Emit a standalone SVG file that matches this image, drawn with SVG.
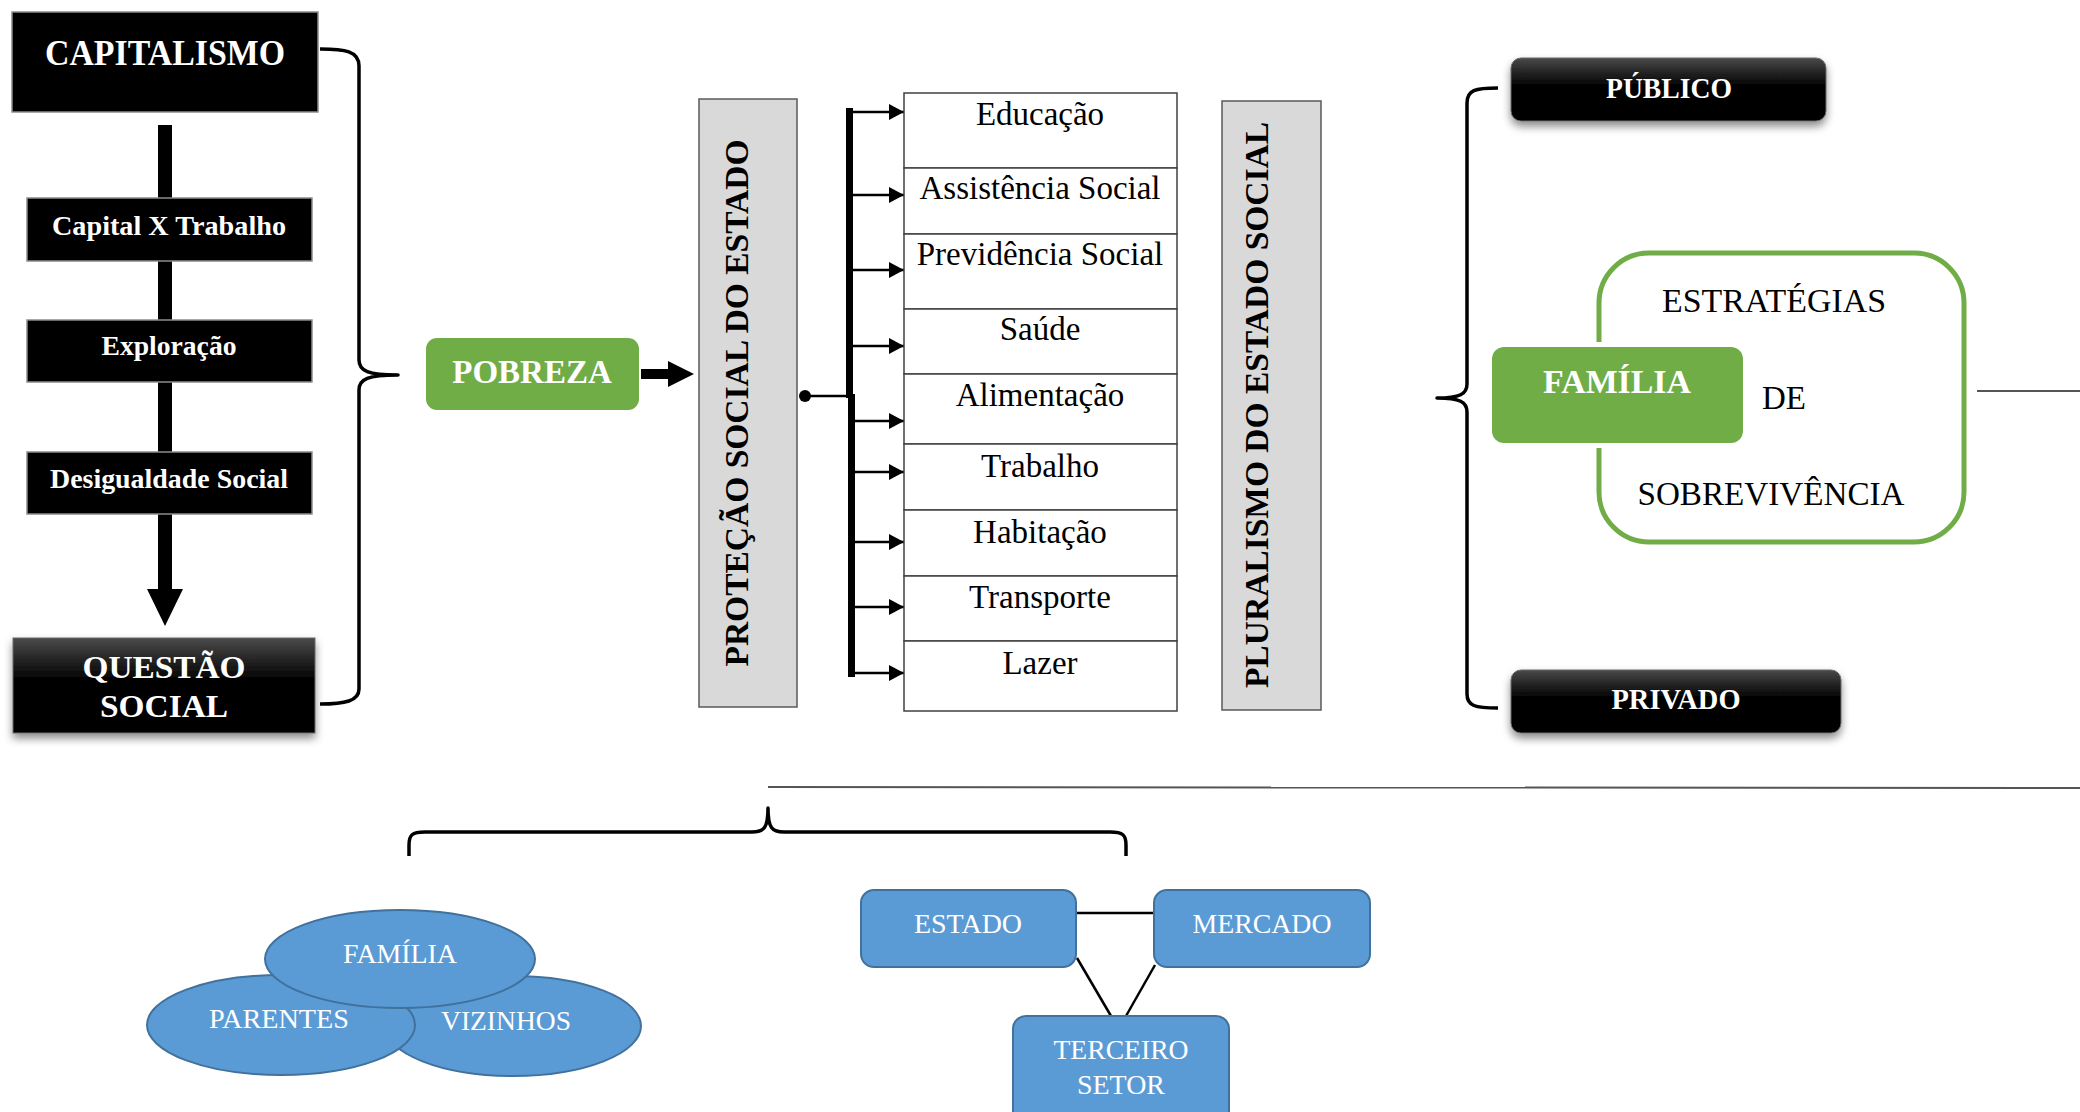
<svg xmlns="http://www.w3.org/2000/svg" width="2080" height="1112" viewBox="0 0 2080 1112">
<style>
.bk{fill:#000;stroke:#8c8c8c;stroke-width:1.5}
.bkg{fill:url(#dk);stroke:#6a6a6a;stroke-width:1}
.wb{font-family:"Liberation Serif","Times New Roman",serif;font-weight:bold;fill:#fff;text-anchor:middle}
.kb{font-family:"Liberation Serif","Times New Roman",serif;font-weight:bold;fill:#000;text-anchor:middle}
.tr{font-family:"Liberation Serif","Times New Roman",serif;fill:#000;text-anchor:middle;font-size:33px}
.tw{font-family:"Liberation Serif","Times New Roman",serif;fill:#fff;text-anchor:middle;font-size:28px}
.panel{fill:#d9d9d9;stroke:#595959;stroke-width:1.5}
.cell{fill:#fff;stroke:#404040;stroke-width:1.5}
.green{fill:#70ad47}
.blue{fill:#5b9bd5;stroke:#41719c;stroke-width:2}
.brace{fill:none;stroke:#000;stroke-width:3.5;stroke-linejoin:round}
.br{stroke:#000;stroke-width:2.5;fill:none;marker-end:url(#ah)}
.thin{stroke:#000;stroke-width:2.5;fill:none}
.gl{stroke:#555;stroke-width:2;fill:none}
</style>
<defs>
<linearGradient id="dk" x1="0" y1="0" x2="0" y2="1">
<stop offset="0" stop-color="#4a4a4a"/>
<stop offset="0.45" stop-color="#000"/>
<stop offset="1" stop-color="#000"/>
</linearGradient>
<filter id="sh" x="-10%" y="-20%" width="120%" height="160%">
<feDropShadow dx="0" dy="5" stdDeviation="4" flood-color="#000" flood-opacity="0.45"/>
</filter>
<marker id="ah" markerWidth="16" markerHeight="16" refX="15" refY="8" orient="auto" markerUnits="userSpaceOnUse">
<path d="M0,0 L15,8 L0,16 Z" fill="#000"/>
</marker>
</defs>
<rect width="2080" height="1112" fill="#fff"/>

<g id="connectors">
<rect x="158" y="125" width="14" height="465" fill="#000"/>
<polygon points="147,589 183,589 165,626" fill="#000"/>
<path class="brace" d="M320 49 C345 49 359 51 359 66 L359 360 C359 371 368 375 398 375 C368 375 359 379 359 390 L359 689 C359 701 345 704 320 704"/>
<rect x="641" y="369" width="29" height="10" fill="#000"/>
<polygon points="668,361 694,374 668,387" fill="#000"/>
<circle cx="805" cy="396" r="6" fill="#000"/>
<line x1="805" y1="396" x2="852" y2="396" class="thin" stroke-width="3"/>
<rect x="846" y="108" width="7" height="290" fill="#000"/>
<rect x="848" y="394" width="7" height="283" fill="#000"/>
<line class="br" x1="852" y1="112" x2="904" y2="112"/>
<line class="br" x1="852" y1="195" x2="904" y2="195"/>
<line class="br" x1="852" y1="270" x2="904" y2="270"/>
<line class="br" x1="852" y1="346" x2="904" y2="346"/>
<line class="br" x1="854" y1="421" x2="904" y2="421"/>
<line class="br" x1="854" y1="472" x2="904" y2="472"/>
<line class="br" x1="854" y1="542" x2="904" y2="542"/>
<line class="br" x1="854" y1="607" x2="904" y2="607"/>
<line class="br" x1="854" y1="673" x2="904" y2="673"/>
<path class="brace" d="M1498 88 C1475 88 1467 90 1467 103 L1467 384 C1467 394 1460 398 1437 398 C1460 398 1467 402 1467 412 L1467 694 C1467 706 1475 708 1498 708"/>
<line class="gl" x1="1977" y1="391" x2="2080" y2="391"/>
<line class="gl" x1="768" y1="787" x2="2080" y2="788"/>
<path class="brace" d="M409 856 L409 845 C409 835 412 832 425 832 L752 832 C764 832 768 828 768 808 C768 828 772 832 784 832 L1110 832 C1123 832 1126 835 1126 845 L1126 856"/>
<line class="thin" x1="1077" y1="913" x2="1154" y2="913"/>
<line class="thin" x1="1077" y1="958" x2="1111" y2="1016"/>
<line class="thin" x1="1155" y1="965" x2="1126" y2="1016"/>
</g>

<g id="capitalismo">
<rect class="bk" x="12" y="12" width="306" height="100"/>
<text class="wb" x="165" y="65" font-size="35" textLength="240" lengthAdjust="spacingAndGlyphs">CAPITALISMO</text>
</g>
<g id="capital-trabalho">
<rect class="bk" x="27" y="198" width="285" height="63"/>
<text class="wb" x="169" y="235" font-size="27" textLength="234" lengthAdjust="spacingAndGlyphs">Capital X Trabalho</text>
</g>
<g id="exploracao">
<rect class="bk" x="27" y="320" width="285" height="62"/>
<text class="wb" x="169" y="355" font-size="27" textLength="135" lengthAdjust="spacingAndGlyphs">Exploração</text>
</g>
<g id="desigualdade">
<rect class="bk" x="27" y="452" width="285" height="62"/>
<text class="wb" x="169" y="488" font-size="27" textLength="238" lengthAdjust="spacingAndGlyphs">Desigualdade Social</text>
</g>
<g id="questao-social">
<rect class="bkg" x="13" y="638" width="302" height="95" filter="url(#sh)"/>
<text class="wb" x="164" y="678" font-size="32" textLength="163" lengthAdjust="spacingAndGlyphs">QUESTÃO</text>
<text class="wb" x="164" y="717" font-size="32" textLength="128" lengthAdjust="spacingAndGlyphs">SOCIAL</text>
</g>

<g id="pobreza">
<rect class="green" x="426" y="338" width="213" height="72" rx="11"/>
<text class="wb" x="532" y="383" font-size="33">POBREZA</text>
</g>

<g id="protecao-social">
<rect class="panel" x="699" y="99" width="98" height="608"/>
<text class="kb" transform="translate(748,403) rotate(-90)" font-size="33.5">PROTEÇÃO SOCIAL DO ESTADO</text>
</g>

<g id="politicas">
<rect class="cell" x="904" y="93" width="273" height="75"/>
<text class="tr" x="1040" y="125">Educação</text>
<rect class="cell" x="904" y="168" width="273" height="66"/>
<text class="tr" x="1040" y="199">Assistência Social</text>
<rect class="cell" x="904" y="234" width="273" height="75"/>
<text class="tr" x="1040" y="265">Previdência Social</text>
<rect class="cell" x="904" y="309" width="273" height="65"/>
<text class="tr" x="1040" y="340">Saúde</text>
<rect class="cell" x="904" y="374" width="273" height="70"/>
<text class="tr" x="1040" y="406">Alimentação</text>
<rect class="cell" x="904" y="444" width="273" height="66"/>
<text class="tr" x="1040" y="477">Trabalho</text>
<rect class="cell" x="904" y="510" width="273" height="66"/>
<text class="tr" x="1040" y="543">Habitação</text>
<rect class="cell" x="904" y="576" width="273" height="65"/>
<text class="tr" x="1040" y="608">Transporte</text>
<rect class="cell" x="904" y="641" width="273" height="70"/>
<text class="tr" x="1040" y="674">Lazer</text>
</g>

<g id="pluralismo">
<rect class="panel" x="1222" y="101" width="99" height="609"/>
<text class="kb" transform="translate(1268,405) rotate(-90)" font-size="33.5">PLURALISMO DO ESTADO SOCIAL</text>
</g>

<g id="publico">
<rect class="bkg" x="1511" y="58" width="315" height="63" rx="10" filter="url(#sh)"/>
<text class="wb" x="1669" y="98" font-size="29" textLength="126" lengthAdjust="spacingAndGlyphs">PÚBLICO</text>
</g>

<g id="estrategias">
<rect x="1599" y="253" width="365" height="289" rx="50" fill="#fff" stroke="#70ad47" stroke-width="5"/>
<text class="tr" x="1774" y="312" textLength="224" lengthAdjust="spacingAndGlyphs">ESTRATÉGIAS</text>
<text class="tr" x="1784" y="409">DE</text>
<text class="tr" x="1771" y="505" textLength="267" lengthAdjust="spacingAndGlyphs">SOBREVIVÊNCIA</text>
</g>

<g id="familia">
<rect x="1486" y="342" width="262" height="106" rx="15" fill="#fff"/>
<rect class="green" x="1492" y="347" width="251" height="96" rx="12"/>
<text class="wb" x="1617" y="393" font-size="33" textLength="148" lengthAdjust="spacingAndGlyphs">FAMÍLIA</text>
</g>

<g id="privado">
<rect class="bkg" x="1511" y="670" width="330" height="63" rx="10" filter="url(#sh)"/>
<text class="wb" x="1676" y="709" font-size="29" textLength="129" lengthAdjust="spacingAndGlyphs">PRIVADO</text>
</g>

<g id="vizinhos">
<ellipse class="blue" cx="513" cy="1026" rx="128" ry="50"/>
<text class="tw" x="506" y="1030" textLength="130" lengthAdjust="spacingAndGlyphs">VIZINHOS</text>
</g>
<g id="parentes">
<ellipse class="blue" cx="281" cy="1025" rx="134" ry="50"/>
<text class="tw" x="279" y="1028" textLength="140" lengthAdjust="spacingAndGlyphs">PARENTES</text>
</g>
<g id="familia-circulo">
<ellipse class="blue" cx="400" cy="959" rx="135" ry="49"/>
<text class="tw" x="400" y="963" textLength="114" lengthAdjust="spacingAndGlyphs">FAMÍLIA</text>
</g>

<g id="estado">
<rect class="blue" x="861" y="890" width="215" height="77" rx="13"/>
<text class="tw" x="968" y="933" textLength="108" lengthAdjust="spacingAndGlyphs">ESTADO</text>
</g>
<g id="mercado">
<rect class="blue" x="1154" y="890" width="216" height="77" rx="13"/>
<text class="tw" x="1262" y="933" textLength="139" lengthAdjust="spacingAndGlyphs">MERCADO</text>
</g>
<g id="terceiro-setor">
<rect class="blue" x="1013" y="1016" width="216" height="120" rx="13"/>
<text class="tw" x="1121" y="1059" textLength="135" lengthAdjust="spacingAndGlyphs">TERCEIRO</text>
<text class="tw" x="1121" y="1094" textLength="88" lengthAdjust="spacingAndGlyphs">SETOR</text>
</g>
</svg>
